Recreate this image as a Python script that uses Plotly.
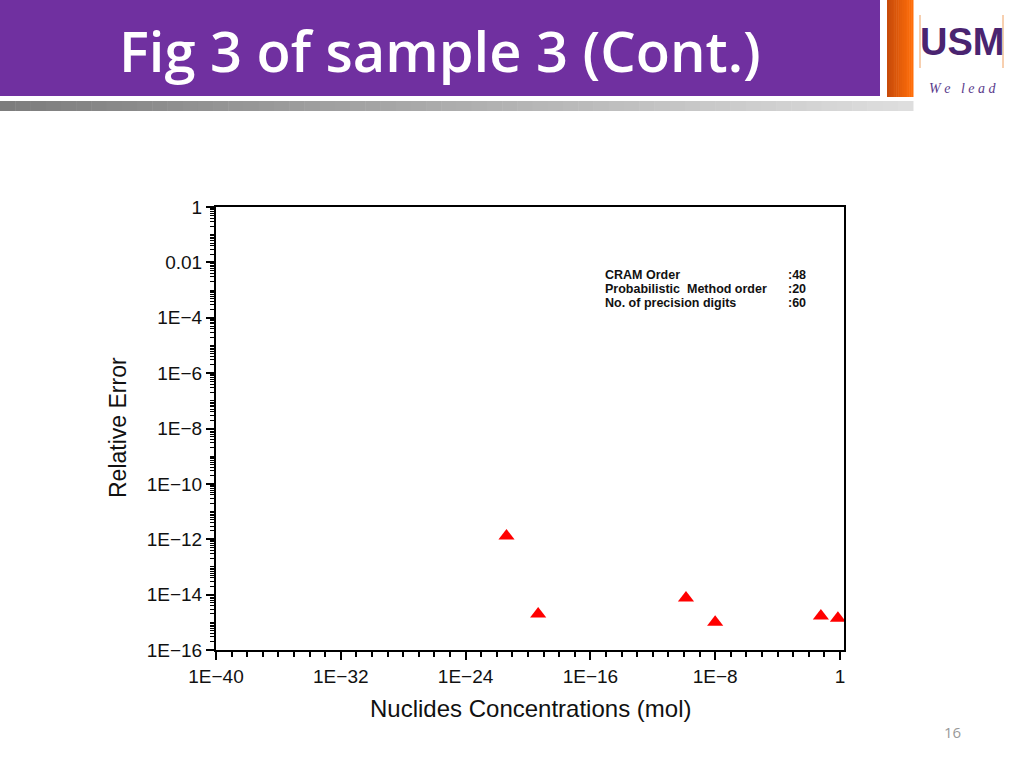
import plotly.graph_objects as go

# ---- data ----
concentrations = [4.2e-22, 4.5e-20, 1.35e-10, 1.0e-8, 6.0e-2, 0.74]
relative_error = [1.3e-12, 2.0e-15, 7.6e-15, 1.0e-15, 1.7e-15, 1.4e-15]

x_tickvals = [1e-40, 1e-32, 1e-24, 1e-16, 1e-8, 1]
x_ticktext = ["1E\u221240", "1E\u221232", "1E\u221224", "1E\u221216", "1E\u22128", "1"]
y_tickvals = [1, 1e-2, 1e-4, 1e-6, 1e-8, 1e-10, 1e-12, 1e-14, 1e-16]
y_ticktext = ["1", "0.01", "1E\u22124", "1E\u22126", "1E\u22128", "1E\u221210",
              "1E\u221212", "1E\u221214", "1E\u221216"]

info_labels = ["CRAM Order", "Probabilistic  Method order", "No. of precision digits"]
info_values = [":48", ":20", ":60"]

title_text = "Fig 3 of sample 3 (Cont.)"
page_number = "16"

# ---- layout geometry (page pixels) ----
W, H = 1024, 768
L, R, T, B = 216, 844, 207, 650  # plot area in page pixels


def px(x):
    return (x - L) / (R - L)


def py(y):
    return (B - y) / (B - T)


fig = go.Figure()
fig.add_trace(go.Scatter(
    x=concentrations, y=relative_error, mode="markers",
    marker=dict(symbol="triangle-up", size=14, color="#ff0000",
                line=dict(width=0)),
    showlegend=False, cliponaxis=False,
))

shapes = []
# purple header
shapes.append(dict(type="rect", xref="paper", yref="paper", x0=px(0), x1=px(880),
                   y0=py(96), y1=py(0), fillcolor="#7030a0", line=dict(width=0),
                   layer="below"))


def lerp(c1, c2, t):
    return "#%02x%02x%02x" % tuple(int(round(a + (b - a) * t)) for a, b in zip(c1, c2))


# grey gradient bar
n = 60
x0, x1 = 0, 913
for i in range(n):
    a = x0 + (x1 - x0) * i / n
    b = x0 + (x1 - x0) * (i + 1) / n + 0.5
    shapes.append(dict(type="rect", xref="paper", yref="paper", x0=px(a), x1=px(b),
                       y0=py(111), y1=py(101),
                       fillcolor=lerp((125, 125, 125), (222, 222, 222), i / (n - 1)),
                       line=dict(width=0), layer="below"))
# orange bar
n2 = 14
for i in range(n2):
    a = 887 + 26 * i / n2
    b = 887 + 26 * (i + 1) / n2 + 0.5
    shapes.append(dict(type="rect", xref="paper", yref="paper", x0=px(a), x1=px(b),
                       y0=py(97), y1=py(0),
                       fillcolor=lerp((200, 75, 10), (255, 110, 10), i / (n2 - 1)),
                       line=dict(width=0), layer="below"))
# logo orange thin lines
for xx in [920, 1003]:
    shapes.append(dict(type="line", xref="paper", yref="paper", x0=px(xx), x1=px(xx),
                       y0=py(68), y1=py(15), line=dict(color="#f0a060", width=1)))

annotations = []
annotations.append(dict(text=title_text, x=px(117), y=py(50), xref="paper", yref="paper",
                        xanchor="left", yanchor="middle", showarrow=False,
                        font=dict(family="Open Sans", size=56, color="white", weight=600)))
annotations.append(dict(text="USM", x=px(962), y=py(42), xref="paper", yref="paper",
                        xanchor="center", yanchor="middle", showarrow=False,
                        font=dict(family="Liberation Sans", size=38, color="#4a2470",
                                  weight="bold")))
annotations.append(dict(text="W e &nbsp; l e a d", x=px(962), y=py(88), xref="paper", yref="paper",
                        xanchor="center", yanchor="middle", showarrow=False,
                        font=dict(family="Liberation Serif", size=14, color="#5a3c8c",
                                  style="italic")))
annotations.append(dict(text=page_number, x=px(952), y=py(732), xref="paper", yref="paper",
                        xanchor="center", yanchor="middle", showarrow=False,
                        font=dict(family="Open Sans", size=15, color="#999999")))

for i, (lab, val) in enumerate(zip(info_labels, info_values)):
    yy = 275 + 14.2 * i
    annotations.append(dict(text="<b>%s</b>" % lab.replace("  ", "&nbsp; "), x=px(603), y=py(yy),
                            xref="paper", yref="paper", xanchor="left", yanchor="middle",
                            showarrow=False,
                            font=dict(family="Liberation Sans", size=12.5, color="#111111")))
    annotations.append(dict(text="<b>%s</b>" % val, x=px(786), y=py(yy),
                            xref="paper", yref="paper", xanchor="left", yanchor="middle",
                            showarrow=False,
                            font=dict(family="Liberation Sans", size=12.5, color="#111111")))

# axis titles
annotations.append(dict(text="Nuclides Concentrations (mol)", x=px(530), y=py(708),
                        xref="paper", yref="paper", xanchor="center", yanchor="middle",
                        showarrow=False,
                        font=dict(family="Liberation Sans", size=24, color="#111111")))
annotations.append(dict(text="Relative Error", x=px(118), y=py(428), textangle=-90,
                        xref="paper", yref="paper", xanchor="center", yanchor="middle",
                        showarrow=False,
                        font=dict(family="Liberation Sans", size=23, color="#111111")))

fig.update_layout(
    width=W, height=H,
    margin=dict(l=L, r=W - R, t=T, b=H - B, pad=0),
    paper_bgcolor="white", plot_bgcolor="white",
    shapes=shapes, annotations=annotations,
    font=dict(family="Liberation Sans", color="#111111"),
)

fig.update_xaxes(
    type="log", range=[-40, 0.26], tickvals=x_tickvals, ticktext=x_ticktext,
    ticks="outside", ticklen=8, tickwidth=2, tickcolor="black",
    showline=True, linecolor="black", linewidth=2, mirror=True,
    showgrid=False, zeroline=False,
    tickfont=dict(family="Liberation Sans", size=19, color="#111111"),
    minor=dict(dtick=1, ticks="outside", ticklen=5, tickwidth=1.5, tickcolor="black",
               showgrid=False),
)
fig.update_yaxes(
    type="log", range=[-16, 0], tickvals=y_tickvals, ticktext=y_ticktext,
    ticks="outside", ticklen=8, tickwidth=2, tickcolor="black",
    showline=True, linecolor="black", linewidth=2, mirror=True,
    showgrid=False, zeroline=False,
    tickfont=dict(family="Liberation Sans", size=19, color="#111111"),
    minor=dict(dtick="D1", ticks="outside", ticklen=4, tickwidth=1, tickcolor="black",
               showgrid=False),
)

fig.write_html("out.html", config={"displayModeBar": False},
               post_script="document.body.style.margin='0';")
